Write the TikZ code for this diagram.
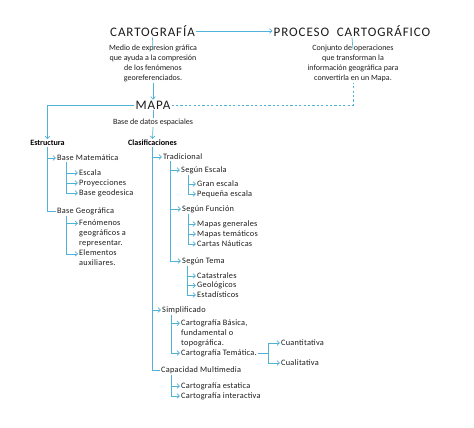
\documentclass[tikz,border=0pt]{standalone}
\usepackage{fontspec}
\setmainfont{Carlito}
\usepackage{tikz}
\usetikzlibrary{positioning,arrows.meta}
\definecolor{linkblue}{RGB}{80,178,214}
\definecolor{inkgray}{RGB}{28,28,28}
\newfontfamily\titlefont{Carlito}[LetterSpace=7]
\newfontfamily\treefont{Carlito}[LetterSpace=3]

\tikzset{
  title/.style={inner sep=1pt, text=inkgray, font=\titlefont\fontsize{13}{14}\selectfont},
  desc/.style={inner sep=1pt, text=inkgray, align=center, font=\fontsize{8}{10}\selectfont},
  head/.style={inner sep=1pt, text=black, font=\bfseries\fontsize{8.1}{10}\selectfont},
  item/.style={inner sep=1pt, anchor=west, text=inkgray, align=left, font=\treefont\fontsize{8.3}{10}\selectfont},
  link/.style={draw=linkblue, line width=0.7pt},
  arr/.style={link, -{Straight Barb[length=2.5pt,width=4.6pt]}},
  dashlink/.style={link, dash pattern=on 2.2pt off 2.2pt}
}

\begin{document}
\begin{tikzpicture}[x=1pt, y=-1pt]
\useasboundingbox (0,0) rectangle (474,428);

% top level
\node[title] (cartografia) at (152.5,31) {CARTOGRAFÍA};
\node[title] (proceso) at (352,31) {PROCESO\ \ CARTOGRÁFICO};
\node[desc] (desccarto) at (153,63) {Medio de expresion gráfica\\que ayuda a la compresión\\de los fenómenos\\georeferenciados.};
\node[desc] (descproceso) at (353,63) {Conjunto de operaciones\\que transforman la\\información geográfica para\\convertirla en un Mapa.};
\node[title] (mapa) at (153,105) {MAPA};
\node[desc] (basedatos) at (153,122.5) {Base de datos espaciales};

\draw[arr] (cartografia.east) -- (proceso.west);
\draw[link] (cartografia.south) -- ([yshift=-6pt]desccarto.north);
\draw[arr] (desccarto.south) -- (mapa.north);
\draw[link] (proceso.south) -- ([yshift=-6pt]descproceso.north);
\draw[dashlink] (mapa.east) -| (descproceso.south);
\draw[link] (mapa.south) -- (basedatos.north);

% estructura
\node[head] (estructura) at (47.5,143) {Estructura};
\node[item] (basemat) at (56,158) {Base Matemática};
\node[item] (escala) at (78,173) {Escala};
\node[item] (proyecciones) at (78,183) {Proyecciones};
\node[item] (geodesica) at (78,193) {Base geodesica};
\node[item] (basegeo) at (56,211) {Base Geográfica};
\node[item] (fenomenos) at (78,233) {Fenómenos\\geográficos a\\representar.};
\node[item] (elementos) at (78,258) {Elementos\\auxiliares.};

\draw[arr] (mapa.west) -| (estructura.north);
\draw[arr] (estructura.south) |- (basemat.west);
\draw[link] (estructura.south) |- (basegeo.west);
\draw[arr] ([xshift=10pt]basemat.south west) |- (escala.west);
\draw[arr] ([xshift=10pt]basemat.south west) |- (proyecciones.west);
\draw[arr] ([xshift=10pt]basemat.south west) |- (geodesica.west);
\draw[arr] ([xshift=10pt]basegeo.south west) |- ([yshift=-5pt]fenomenos.north west);
\draw[arr] ([xshift=10pt]basegeo.south west) |- ([yshift=-5pt]elementos.north west);

% clasificaciones
\node[head] (clasif) at (152.5,143) {Clasificaciones};
\node[item] (tradicional) at (162,157) {Tradicional};
\node[item] (segescala) at (180,170) {Según Escala};
\node[item] (granescala) at (196,184) {Gran escala};
\node[item] (pequena) at (196,194) {Pequeña escala};
\node[item] (segfuncion) at (181,209) {Según Función};
\node[item] (generales) at (196,224) {Mapas generales};
\node[item] (tematicos) at (196,234) {Mapas temáticos};
\node[item] (nauticas) at (196,244) {Cartas Náuticas};
\node[item] (segtema) at (181,261) {Según Tema};
\node[item] (catastrales) at (196,276) {Catastrales};
\node[item] (geologicos) at (196,285.5) {Geológicos};
\node[item] (estadisticos) at (196,295) {Estadísticos};
\node[item] (simplificado) at (161,310) {Simplificado};
\node[item] (basica) at (180,333) {Cartografía Básica,\\fundamental o\\topográfica.};
\node[item] (tematica) at (180,353) {Cartografía Temática.};
\node[item] (cuantitativa) at (280,343) {Cuantitativa};
\node[item] (cualitativa) at (280,363) {Cualitativa};
\node[item] (multimedia) at (160,370) {Capacidad Multimedia};
\node[item] (estatica) at (180,386) {Cartografía estatica};
\node[item] (interactiva) at (180,396) {Cartografía interactiva};
\coordinate (fork) at ([xshift=10pt]tematica.east);

\draw[arr] (basedatos.south) -- (clasif.north);
\draw[arr] (clasif.south) |- (tradicional.west);
\draw[arr] (clasif.south) |- (simplificado.west);
\draw[link] (clasif.south) |- (multimedia.west);

\draw[arr] ([xshift=8pt]tradicional.south west) |- (segescala.west);
\draw[arr] ([xshift=8pt]tradicional.south west) |- (segfuncion.west);
\draw[arr] ([xshift=8pt]tradicional.south west) |- (segtema.west);
\draw[arr] ([xshift=8pt]segescala.south west) |- (granescala.west);
\draw[arr] ([xshift=8pt]segescala.south west) |- (pequena.west);
\draw[arr] ([xshift=7pt]segfuncion.south west) |- (generales.west);
\draw[arr] ([xshift=7pt]segfuncion.south west) |- (tematicos.west);
\draw[arr] ([xshift=7pt]segfuncion.south west) |- (nauticas.west);
\draw[arr] ([xshift=6pt]segtema.south west) |- (catastrales.west);
\draw[arr] ([xshift=6pt]segtema.south west) |- (geologicos.west);
\draw[arr] ([xshift=6pt]segtema.south west) |- (estadisticos.west);

\draw[arr] ([xshift=10pt]simplificado.south west) |- ([yshift=-5pt]basica.north west);
\draw[arr] ([xshift=10pt]simplificado.south west) |- (tematica.west);
\draw[link] (tematica.east) -- (fork);
\draw[arr] (fork) |- (cuantitativa.west);
\draw[arr] (fork) |- (cualitativa.west);

\draw[arr] ([xshift=11pt]multimedia.south west) |- (estatica.west);
\draw[arr] ([xshift=11pt]multimedia.south west) |- (interactiva.west);
\end{tikzpicture}
\end{document}
